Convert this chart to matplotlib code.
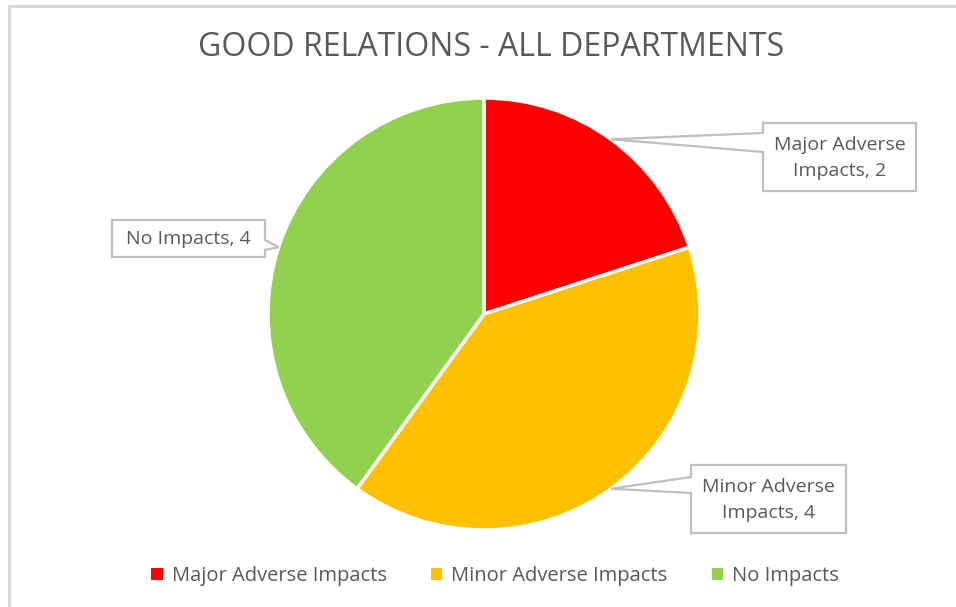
import numpy as np
import matplotlib.pyplot as plt
from matplotlib.patches import Polygon, Patch

# category counts
labels = ['Major Adverse Impacts', 'Minor Adverse Impacts', 'No Impacts']
counts = [2, 4, 4]
colors = ['#ff0000', '#ffc000', '#92d050']
callout_text = ['Major Adverse\nImpacts, 2', 'Minor Adverse\nImpacts, 4', 'No Impacts, 4']

plt.rcParams['font.family'] = ['Open Sans', 'DejaVu Sans']
txt_col = '#595959'
line_col = '#bfbfbf'

fig = plt.figure(figsize=(9.56, 6.07), dpi=100)
ax = fig.add_axes([0, 0, 1, 1])

# chart frame
ax.plot([9, 9, 956], [607, 6, 6], color='#d9d9d9', lw=2.2, solid_capstyle='butt')

cx, cy, R = 484, 314, 216
# y axis is flipped, so counterclock=True runs clockwise on screen
wedges, _ = ax.pie(counts, colors=colors, startangle=-90, counterclock=True,
                   center=(cx, cy), radius=R, frame=True,
                   wedgeprops=dict(edgecolor='white', linewidth=2.5))
ax.set_xlim(0, 956)
ax.set_ylim(607, 0)
ax.set_aspect('equal')
ax.axis('off')

ax.text(491, 48, 'GOOD RELATIONS - ALL DEPARTMENTS', ha='center', va='center',
        fontsize=23, color=txt_col)

# callout boxes: left, right, top, bottom, pointer base (y1, y2), side
boxes = [
    (763, 916, 123, 191, 133, 152, 'left'),
    (691, 846, 465, 533, 477, 493, 'left'),
    (112, 265, 220, 257, 240, 250, 'right'),
]
for w, txt, (l, r, t, b, y1, y2, side) in zip(wedges, callout_text, boxes):
    mid = np.deg2rad((w.theta1 + w.theta2) / 2)
    tip = (cx + R * np.cos(mid), cy + R * np.sin(mid))
    if side == 'left':
        pts = [(l, t), (r, t), (r, b), (l, b), (l, y2), tip, (l, y1)]
    else:
        pts = [(l, t), (r, t), (r, y1), tip, (r, y2), (r, b), (l, b)]
    ax.add_patch(Polygon(pts, closed=True, facecolor='white',
                         edgecolor=line_col, lw=1.6, zorder=5))
    ax.text((l + r) / 2, (t + b) / 2 + 1, txt, ha='center', va='center',
            fontsize=14, color=txt_col, linespacing=1.6, zorder=6)

handles = [Patch(facecolor=c, edgecolor='none') for c in colors]
fig.legend(handles, labels, loc='center', bbox_to_anchor=(495 / 956, 1 - 576 / 607),
           ncol=3, frameon=False, fontsize=14.5, labelcolor=txt_col,
           handlelength=0.55, handleheight=0.55, handletextpad=0.45,
           columnspacing=2.2)

fig.savefig('out.png', dpi=100)
